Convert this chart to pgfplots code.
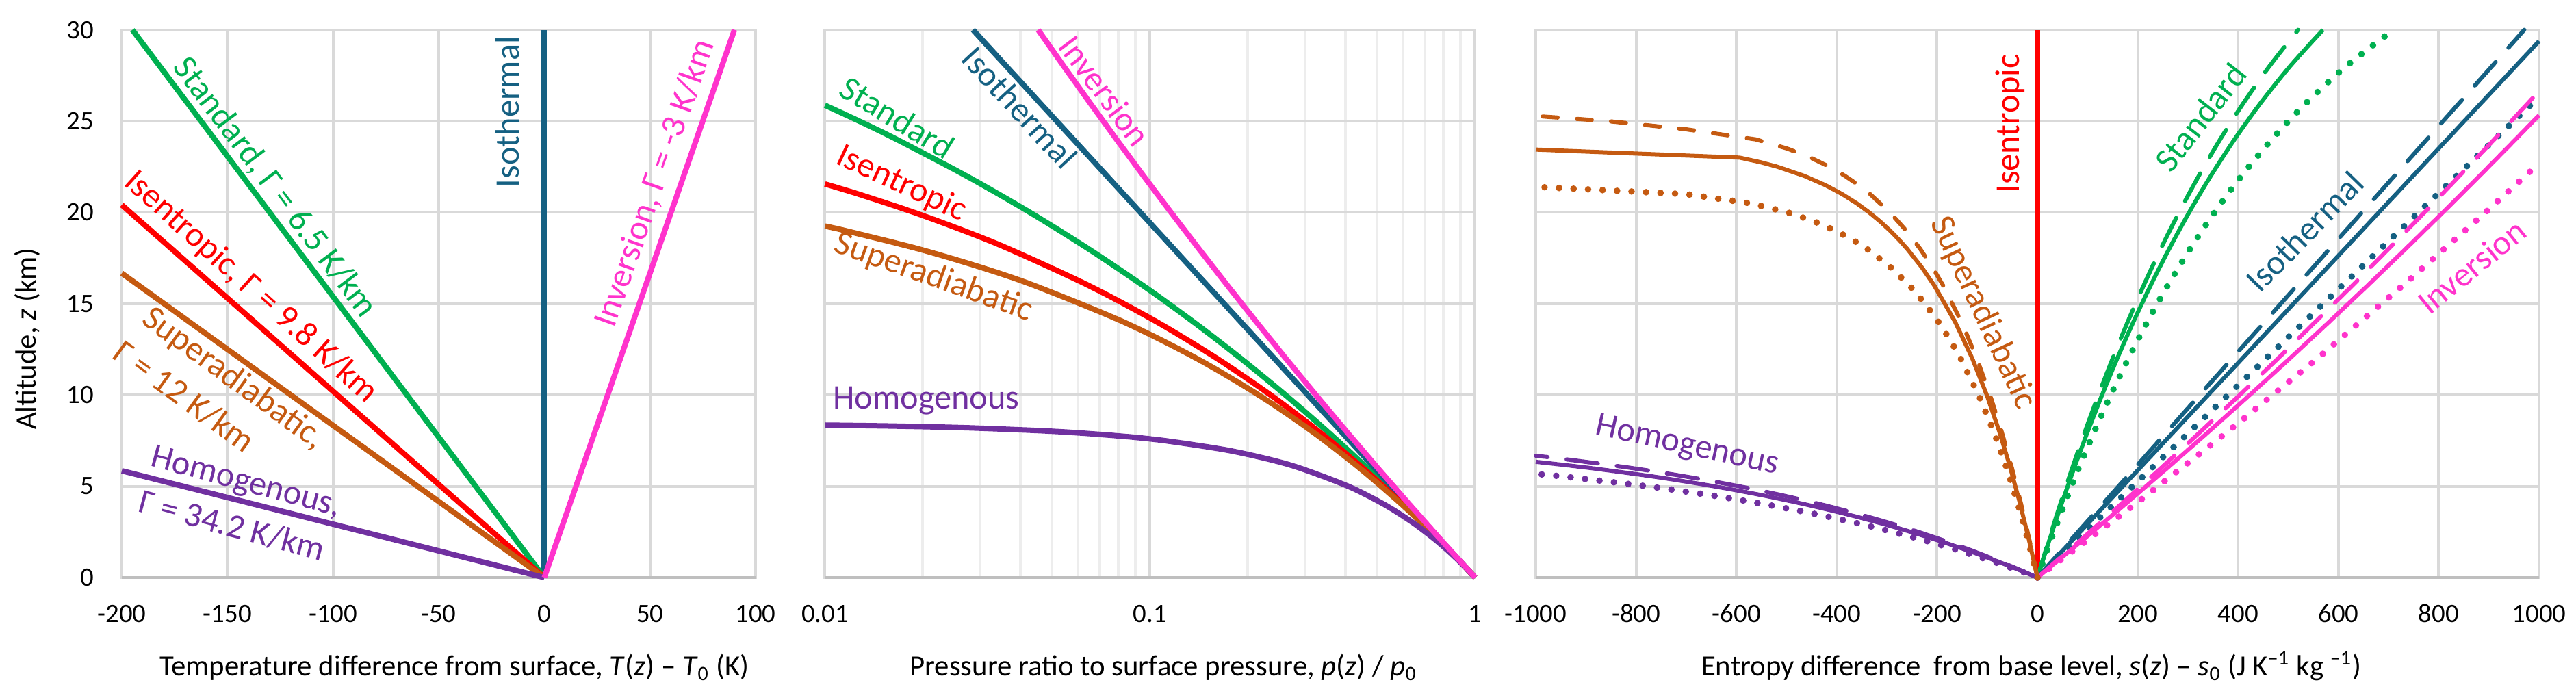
\documentclass[border=0pt]{standalone}
\usepackage{pgfplots}
\pgfplotsset{compat=1.18}
\usepackage{fontspec}
\setmainfont{Carlito}
\definecolor{cstd}{HTML}{00B050}
\definecolor{cise}{HTML}{FF0000}
\definecolor{csup}{HTML}{C55A11}
\definecolor{chom}{HTML}{7030A0}
\definecolor{ciso}{HTML}{156082}
\definecolor{cinv}{HTML}{FF33CC}
\definecolor{gridc}{HTML}{D9D9D9}
\definecolor{minc}{HTML}{EDEDED}
\definecolor{axc}{HTML}{BFBFBF}
\newcommand\lbl{\fontsize{12.6}{15}\selectfont}
\newcommand\ttl{\fontsize{10.7}{13}\selectfont}
\newcommand\tck{\fontsize{9.7}{12}\selectfont}
\pgfplotsset{
 panel/.style={scale only axis, height=200.1pt, anchor=south west, clip=false,
  ymin=0, ymax=30, ytick={0,5,...,30},
  xmajorgrids=true, ymajorgrids=true,
  major grid style={draw=gridc, line width=1pt},
  axis line style={draw=gridc, line width=1pt},
  major tick length=0pt, minor tick length=0pt,
  tick label style={font=\tck, inner sep=0pt, text=black},
  xticklabel style={anchor=base, yshift=-16.4pt},
  yticklabel style={anchor=east, xshift=-10pt},
  every axis plot/.append style={line join=round},
 },
 sol/.style={line width=2pt},
 rsol/.style={line width=1.5pt},
 rdash/.style={line width=1.5pt, line cap=round, dash pattern=on 11.5pt off 7pt},
 rsdash/.style={line width=1.5pt, line cap=round, dash pattern=on 5.5pt off 7pt},
 rdot/.style={line width=2.4pt, line cap=round, dash pattern=on 0pt off 5.3pt},
}
\begin{document}
\begin{tikzpicture}
\useasboundingbox (0pt,0pt) rectangle (941pt,255.5pt);
% ---------------- left panel ----------------
\begin{axis}[panel, at={(44.5pt,44.5pt)}, width=231.5pt,
  xmin=-200, xmax=100, xtick={-200,-150,...,100},
  xticklabels={-200,-150,-100,-50,0,50,100},
  yticklabels={0,5,10,15,20,25,30}]
\draw[axc, line width=1.2pt] (rel axis cs:0,0) -- (rel axis cs:1,0);
\addplot[sol, ciso] coordinates {(0,0) (0,30)};
\addplot[sol, cstd] coordinates {(0,0) (-195,30)};
\addplot[sol, cise] coordinates {(0,0) (-200,20.408)};
\addplot[sol, csup] coordinates {(0,0) (-200,16.667)};
\addplot[sol, chom] coordinates {(0,0) (-200,5.848)};
\addplot[sol, cinv] coordinates {(0,0) (90,30)};
\node[rotate=-53, text=cstd, font=\lbl] at (axis cs:-127.5,21.35) {Standard, Γ = 6.5 K/km};
\node[rotate=-42, text=cise, font=\lbl] at (axis cs:-138.9,15.9) {Isentropic, Γ = 9.8 K/km};
\node[rotate=-36, text=csup, font=\lbl] at (axis cs:-147.2,10.88) {Superadiabatic,};
\node[rotate=-36, text=csup, font=\lbl] at (axis cs:-170.3,9.91) {Γ = 12 K/km};
\node[rotate=-15, text=chom, font=\lbl] at (axis cs:-141.3,5.16) {Homogenous,};
\node[rotate=-15, text=chom, font=\lbl] at (axis cs:-147.9,2.85) {Γ = 34.2 K/km};
\node[rotate=90, text=ciso, font=\lbl] at (axis cs:-17.7,25.5) {Isothermal};
\node[rotate=70.5, text=cinv, font=\lbl] at (axis cs:52.5,21.6) {Inversion, Γ = -3 K/km};
\end{axis}
% ---------------- middle panel ----------------
\begin{axis}[panel, at={(301.35pt,44.5pt)}, width=237.5pt,
  xmode=log, xmin=0.01, xmax=1, xtick={0.01,0.1,1},
  xticklabels={0.01,0.1,1}, yticklabels={},
  xminorgrids=true, minor grid style={draw=minc, line width=1pt}]
\draw[axc, line width=1.2pt] (rel axis cs:0,0) -- (rel axis cs:1,0);
\addplot[sol, cstd, smooth] coordinates {(1,0) (0.78453,2) (0.60833,4) (0.46563,6) (0.35133,8) (0.26089,10) (0.19030,12) (0.13604,14) (0.09505,16) (0.06469,18) (0.04271,20) (0.02721,22) (0.01662,24) (0.01275,25) (0.01,25.87)};
\addplot[sol, ciso] coordinates {(1,0) (0.02853,30)};
\addplot[sol, cise, smooth] coordinates {(1,0) (0.78224,2) (0.60063,4) (0.45129,6) (0.33053,8) (0.23479,10) (0.16069,12) (0.10499,14) (0.06465,16) (0.03681,18) (0.02673,19) (0.01879,20) (0.01270,21) (0.01,21.556)};
\addplot[sol, csup, smooth] coordinates {(1,0) (0.78067,2) (0.59526,4) (0.44108,6) (0.31549,8) (0.21579,10) (0.13919,12) (0.08288,14) (0.04395,16) (0.03007,17) (0.01940,18) (0.01156,19) (0.01,19.249)};
\addplot[sol, chom, smooth] coordinates {(1,0) (0.88144,1) (0.76288,2) (0.64431,3) (0.52575,4) (0.40719,5) (0.28863,6) (0.22934,6.5) (0.17007,7) (0.11078,7.5) (0.08113,7.75) (0.05150,8) (0.02779,8.2) (0.01593,8.3) (0.01,8.350)};
\addplot[sol, cinv] coordinates {(1,0) (0.79081,2) (0.62837,4) (0.50157,6) (0.40210,8) (0.32372,10) (0.26168,12) (0.21236,14) (0.17298,16) (0.14142,18) (0.11602,20) (0.09550,22) (0.07887,24) (0.06535,26) (0.05430,28) (0.04526,30)};
\node[rotate=-31.5, text=cstd, font=\lbl] at (axis cs:0.0167,25.2) {Standard};
\node[rotate=-25, text=cise, font=\lbl] at (axis cs:0.01718,21.55) {Isentropic};
\node[rotate=-19.6, text=csup, font=\lbl] at (axis cs:0.0216,16.43) {Superadiabatic};
\node[text=chom, font=\lbl] at (axis cs:0.0205,9.67) {Homogenous};
\node[rotate=-47.3, text=ciso, font=\lbl] at (axis cs:0.0398,25.74) {Isothermal};
\node[rotate=-53, text=cinv, font=\lbl] at (axis cs:0.0726,26.66) {Inversion};
\end{axis}
% ---------------- right panel ----------------
\begin{axis}[panel, at={(561pt,44.5pt)}, width=366.5pt,
  xmin=-1000, xmax=1000, xtick={-1000,-800,...,1000},
  xticklabels={-1000,-800,-600,-400,-200,0,200,400,600,800,1000},
  yticklabels={}]
\draw[axc, line width=1.2pt] (rel axis cs:0,0) -- (rel axis cs:1,0);
\addplot[cise, line width=1.8pt] coordinates {(0,0) (0,30)};
% standard
\addplot[rsol, cstd, smooth] coordinates {(0,0) (23.27,2) (47.67,4) (73.30,6) (100.31,8) (128.85,10) (159.11,12) (191.30,14) (225.68,16) (262.58,18) (302.40,20) (345.64,22) (392.93,24) (445.13,26) (503.36,28) (569.21,30)};
\addplot[rdash, cstd, smooth] coordinates {(0,0) (22.09,2) (45.20,4) (69.41,6) (94.85,8) (121.64,10) (149.94,12) (179.92,14) (211.79,16) (245.81,18) (282.31,20) (321.65,22) (364.32,24) (410.94,26) (462.32,28) (519.54,30)};
\addplot[rdot, cstd, smooth] coordinates {(0,0) (26.04,2) (53.51,4) (82.55,6) (113.38,8) (146.21,10) (181.33,12) (219.08,14) (259.89,16) (304.30,18) (353.00,20) (406.91,22) (467.29,24) (535.90,26) (615.34,28) (709.69,30)};
% isothermal
\addplot[rsol, ciso] coordinates {(0,0) (1000,29.383)};
\addplot[rdash, ciso] coordinates {(0,0) (970.47,30)};
\addplot[rdot, ciso] coordinates {(0,0) (1000,26.324)};
% inversion
\addplot[rsol, cinv] coordinates {(0,0) (88.07,2) (174.37,4) (258.94,6) (341.89,8) (423.25,10) (503.10,12) (581.48,14) (658.45,16) (734.05,18) (808.35,20) (881.36,22) (953.16,24) (1000,25.322)};
\addplot[rdash, cinv] coordinates {(0,0) (83.76,2) (165.91,4) (246.51,6) (325.61,8) (403.28,10) (479.56,12) (628.16,16) (771.76,20) (910.71,24) (1000,26.641)};
\addplot[rdot, cinv] coordinates {(0,0) (194.17,4) (379.91,8) (557.90,12) (728.78,16) (893.09,20) (1000,22.686)};
% homogenous
\addplot[rsol, chom, smooth] coordinates {(0,0) (-43.85,0.5) (-90.56,1) (-140.53,1.5) (-194.24,2) (-252.29,2.5) (-315.45,3) (-384.71,3.5) (-461.39,4) (-547.24,4.5) (-644.77,5) (-757.68,5.5) (-891.74,6) (-1000,6.3407)};
\addplot[rdash, chom, smooth] coordinates {(0,0) (-41.62,0.5) (-85.81,1) (-132.89,1.5) (-183.28,2) (-237.48,2.5) (-296.11,3) (-359.96,3.5) (-430.05,4) (-507.74,4.5) (-594.86,5) (-694.04,5.5) (-809.17,6) (-946.36,6.5) (-1000,6.6708)};
\addplot[rdot, chom, smooth] coordinates {(0,0) (-49.13,0.5) (-101.87,1) (-158.80,1.5) (-220.64,2) (-288.31,2.5) (-363.04,3) (-446.45,3.5) (-540.86,4) (-649.60,4.5) (-777.80,5) (-934.00,5.5) (-1000,5.6806)};
% superadiabatic
\addplot[rsol, csup] coordinates {(0,0) (-16.30,2) (-34.16,4) (-53.90,6) (-75.96,8) (-100.97,10) (-129.84,12) (-163.98,14) (-205.75,16) (-230.74,17) (-259.58,18) (-275.85,18.5) (-293.68,19) (-313.38,19.5) (-335.39,20) (-360.34,20.5) (-389.12,21) (-423.14,21.5) (-464.74,22) (-518.28,22.5) (-552.15,22.75) (-593.52,23) (-1000,23.44)};
\addplot[rsdash, csup] coordinates {(0,0) (-15.46,2) (-32.31,4) (-50.83,6) (-71.38,8) (-94.46,10) (-120.79,12) (-151.43,14) (-188.08,16) (-209.50,17) (-233.68,18) (-261.45,19) (-294.06,20) (-333.56,21) (-356.95,21.5) (-383.68,22) (-414.86,22.5) (-452.29,23) (-499.10,23.5) (-561.63,24) (-700,24.55) (-855.91,25) (-1000,25.28)};
\addplot[rdot, csup] coordinates {(0,0) (-18.29,2) (-38.56,4) (-61.30,6) (-87.17,8) (-117.20,10) (-152.97,12) (-173.79,13) (-197.22,14) (-224.00,15) (-255.25,16) (-292.77,17) (-339.73,18) (-368.52,18.5) (-402.55,19) (-444.15,19.5) (-497.70,20) (-572.94,20.5) (-700.61,21) (-1000,21.4)};
\node[rotate=90, text=cise, font=\lbl] at (axis cs:-55,24.85) {Isentropic};
\node[rotate=-65, text=csup, font=\lbl] at (axis cs:-109,14.5) {Superadiabatic};
\node[rotate=-12.4, text=chom, font=\lbl] at (axis cs:-698,7.19) {Homogenous};
\node[rotate=52, text=cstd, font=\lbl] at (axis cs:325,25.2) {Standard};
\node[rotate=45.7, text=ciso, font=\lbl] at (axis cs:533,18.96) {Isothermal};
\node[rotate=39, text=cinv, font=\lbl] at (axis cs:866,17.05) {Inversion};
\end{axis}
% ---------------- axis titles ----------------
\node[rotate=90, font=\ttl] at (10pt,131.75pt) {Altitude, \textit{z} (km)};
\node[font=\ttl, anchor=base] at (166pt,8.6pt) {Temperature difference from surface, \textit{T}(\textit{z}) – \textit{T}\textsubscript{0} (K)};
\node[font=\ttl, anchor=base] at (425pt,8.6pt) {Pressure ratio to surface pressure, \textit{p}(\textit{z}) / \textit{p}\textsubscript{0}};
\node[font=\ttl, anchor=base] at (742pt,8.6pt) {Entropy difference\ \ from base level, \textit{s}(\textit{z}) – \textit{s}\textsubscript{0} (J K\textsuperscript{–1} kg \textsuperscript{–1})};
\end{tikzpicture}
\end{document}
